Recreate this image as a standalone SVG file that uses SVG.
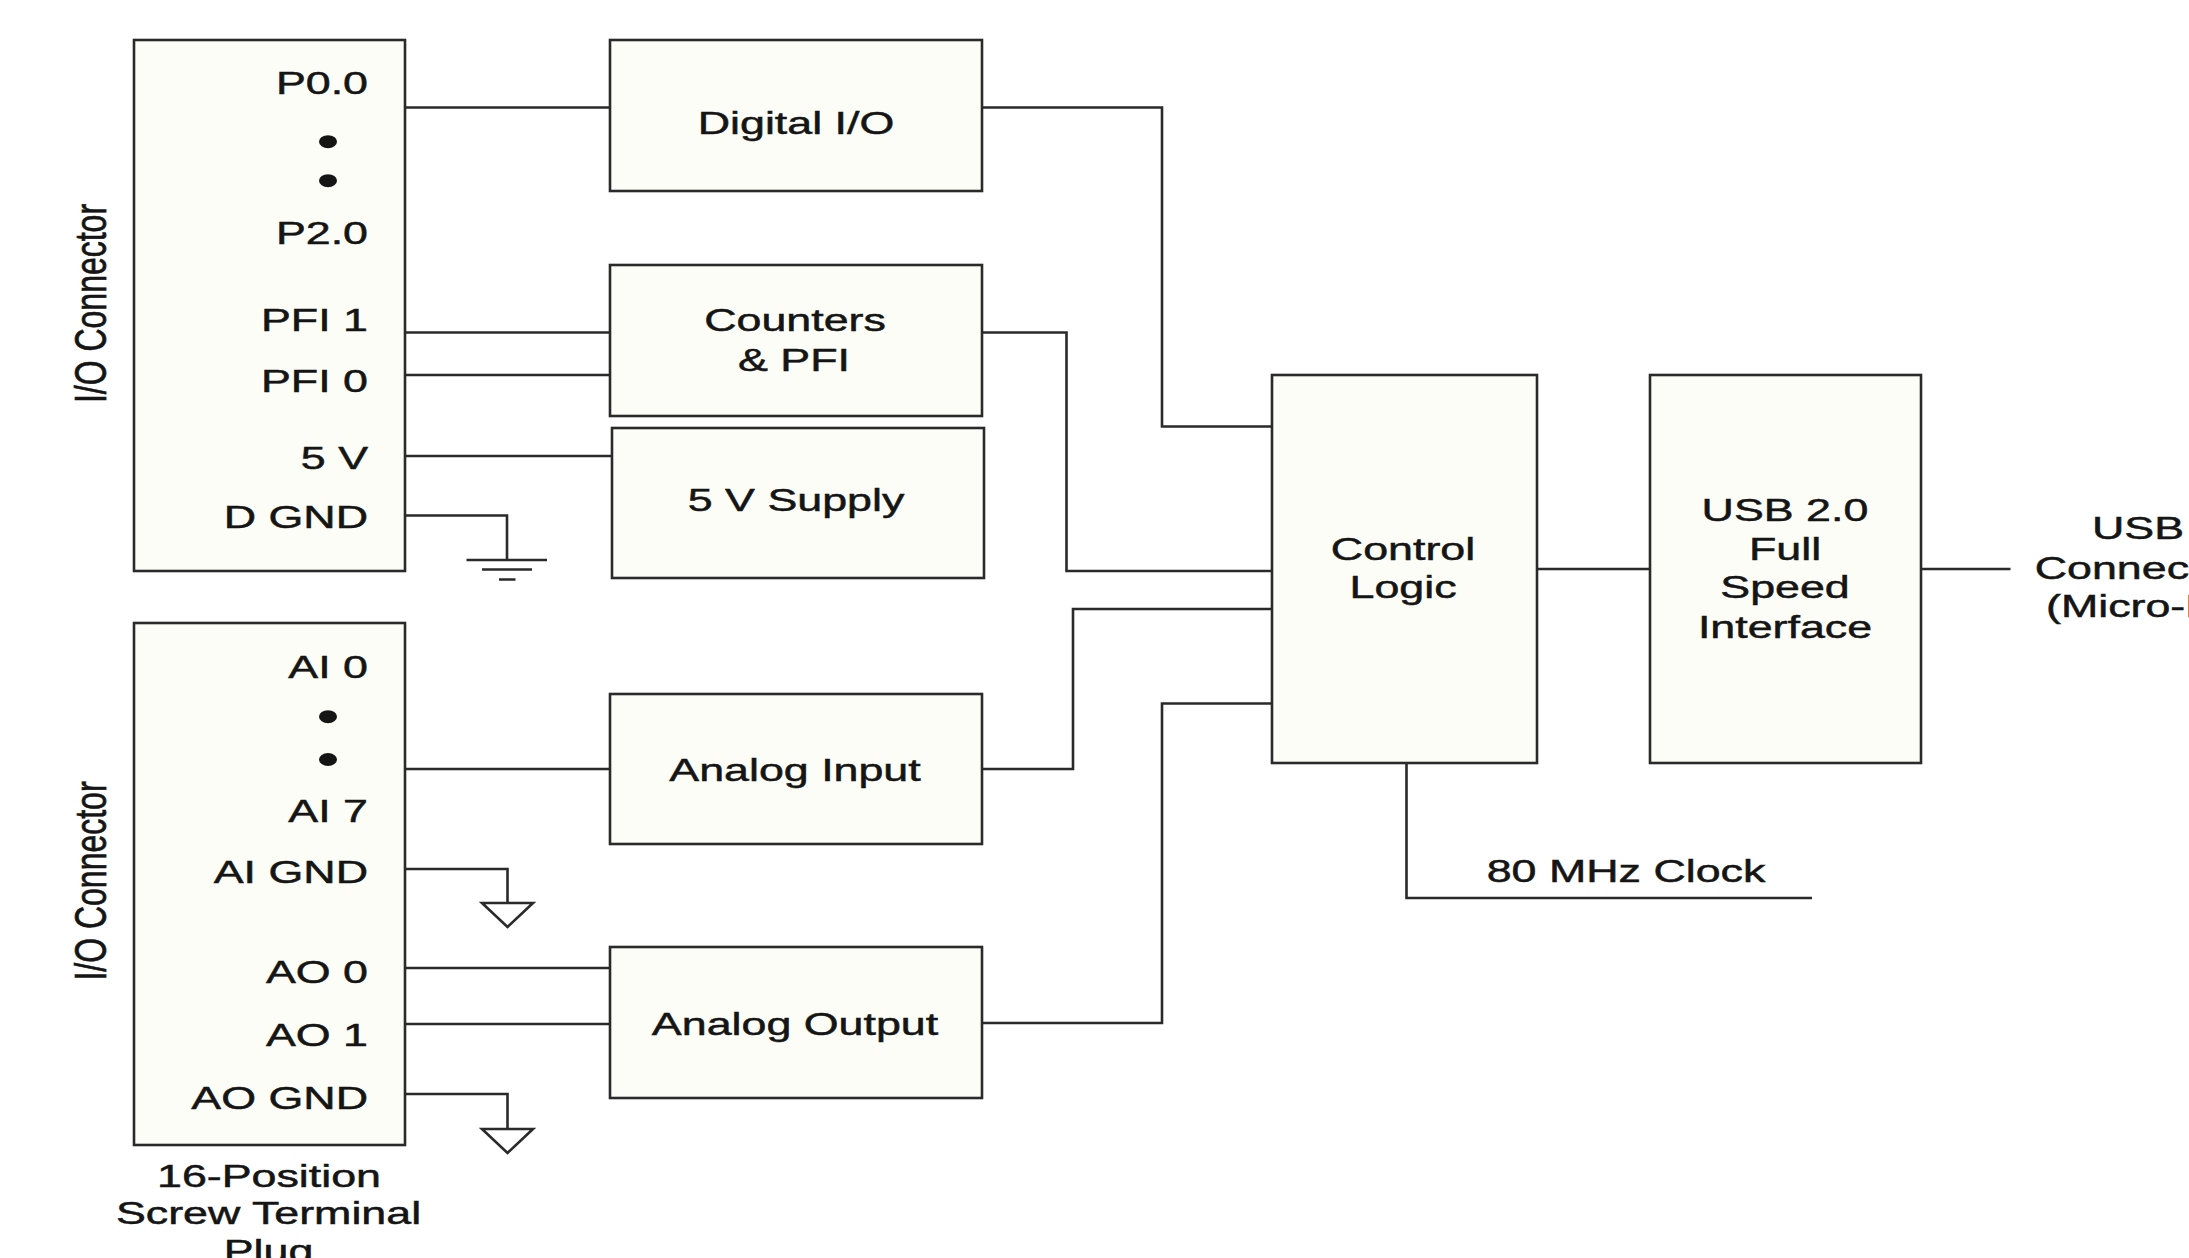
<svg xmlns="http://www.w3.org/2000/svg" width="2189" height="1258" viewBox="0 0 2189 1258">
<style>
.box{fill:#fdfdf7;stroke:#2a2a2a;stroke-width:2.6}
.wire{fill:none;stroke:#2a2a2a;stroke-width:2.6}
.gnd{fill:#ffffff;stroke:#2a2a2a;stroke-width:2.6}
text{font-family:"Liberation Sans",Arial,Helvetica,sans-serif;font-size:32px;fill:#151515;stroke:#151515;stroke-width:0.5}
.r{text-anchor:end}
.c{text-anchor:middle}
.dot{fill:#151515}
</style>
<rect width="2189" height="1258" fill="#ffffff"/>

<g id="connectors">
  <path class="wire" d="M405,107.5 H610"/>
  <path class="wire" d="M405,332.5 H610"/>
  <path class="wire" d="M405,375 H610"/>
  <path class="wire" d="M405,456 H612"/>
  <path class="wire" d="M405,515.5 H507 V560"/>
  <path class="wire" d="M466.5,560 H547 M482,569.5 H532 M499,579.5 H515.5"/>
  <path class="wire" d="M405,769 H610"/>
  <path class="wire" d="M405,869 H507.5 V903"/>
  <path class="wire" d="M405,968 H610"/>
  <path class="wire" d="M405,1024 H610"/>
  <path class="wire" d="M405,1094 H507.5 V1129"/>
  <path class="wire" d="M982,107.5 H1162 V426.5 H1272"/>
  <path class="wire" d="M982,332.5 H1066.5 V571 H1272"/>
  <path class="wire" d="M982,769 H1073 V609 H1272"/>
  <path class="wire" d="M982,1023 H1162 V703.5 H1272"/>
  <path class="wire" d="M1537,569 H1650"/>
  <path class="wire" d="M1921,569 H2010.5"/>
  <path class="wire" d="M1406.5,763 V898 H1812"/>
  <polygon class="gnd" points="482,903 533,903 507.5,927"/>
  <polygon class="gnd" points="482,1129 533,1129 507.5,1153"/>
</g>

<g id="io-connector-digital">
  <rect class="box" x="134" y="40" width="271" height="531"/>
  <text class="r" transform="translate(368,94) scale(1.4,1)">P0.0</text>
  <ellipse class="dot" cx="328" cy="141.7" rx="9" ry="6.5"/>
  <ellipse class="dot" cx="328" cy="180.7" rx="9" ry="6.5"/>
  <text class="r" transform="translate(368,244) scale(1.4,1)">P2.0</text>
  <text class="r" transform="translate(368,331) scale(1.4,1)">PFI 1</text>
  <text class="r" transform="translate(368,392) scale(1.4,1)">PFI 0</text>
  <text class="r" transform="translate(368,469) scale(1.4,1)">5 V</text>
  <text class="r" transform="translate(368,528) scale(1.4,1)">D GND</text>
  <text class="c" transform="translate(105.5,303.5) scale(1.4,1) rotate(-90)">I/O Connector</text>
</g>

<g id="io-connector-analog">
  <rect class="box" x="134" y="623" width="271" height="522"/>
  <text class="r" transform="translate(368,677.5) scale(1.4,1)">AI 0</text>
  <ellipse class="dot" cx="328" cy="716.7" rx="9" ry="6.5"/>
  <ellipse class="dot" cx="328" cy="759.5" rx="9" ry="6.5"/>
  <text class="r" transform="translate(368,822) scale(1.4,1)">AI 7</text>
  <text class="r" transform="translate(368,883) scale(1.4,1)">AI GND</text>
  <text class="r" transform="translate(368,982.5) scale(1.4,1)">AO 0</text>
  <text class="r" transform="translate(368,1046) scale(1.4,1)">AO 1</text>
  <text class="r" transform="translate(368,1109) scale(1.4,1)">AO GND</text>
  <text class="c" transform="translate(105.5,881) scale(1.4,1) rotate(-90)">I/O Connector</text>
  <text class="c" transform="translate(269,1186.5) scale(1.4,1)">16-Position</text>
  <text class="c" transform="translate(268.5,1223.5) scale(1.4,1)">Screw Terminal</text>
  <text class="c" transform="translate(268.5,1262) scale(1.4,1)">Plug</text>
</g>

<g id="digital-io">
  <rect class="box" x="610" y="40" width="372" height="151"/>
  <text class="c" transform="translate(796,134) scale(1.4,1)">Digital I/O</text>
</g>

<g id="counters-pfi">
  <rect class="box" x="610" y="265" width="372" height="151"/>
  <text class="c" transform="translate(795,331) scale(1.4,1)">Counters</text>
  <text class="c" transform="translate(794,371) scale(1.4,1)">&amp; PFI</text>
</g>

<g id="supply-5v">
  <rect class="box" x="612" y="428" width="372" height="150"/>
  <text class="c" transform="translate(796,511) scale(1.4,1)">5 V Supply</text>
</g>

<g id="analog-input">
  <rect class="box" x="610" y="694" width="372" height="150"/>
  <text class="c" transform="translate(795,781) scale(1.4,1)">Analog Input</text>
</g>

<g id="analog-output">
  <rect class="box" x="610" y="947" width="372" height="151"/>
  <text class="c" transform="translate(795,1035) scale(1.4,1)">Analog Output</text>
</g>

<g id="control-logic">
  <rect class="box" x="1272" y="375" width="265" height="388"/>
  <text class="c" transform="translate(1403,559.5) scale(1.4,1)">Control</text>
  <text class="c" transform="translate(1403,598) scale(1.4,1)">Logic</text>
</g>

<g id="usb-interface">
  <rect class="box" x="1650" y="375" width="271" height="388"/>
  <text class="c" transform="translate(1785,521) scale(1.4,1)">USB 2.0</text>
  <text class="c" transform="translate(1785,559.5) scale(1.4,1)">Full</text>
  <text class="c" transform="translate(1785,598) scale(1.4,1)">Speed</text>
  <text class="c" transform="translate(1785,638) scale(1.4,1)">Interface</text>
</g>

<g id="usb-connector">
  <text class="c" transform="translate(2138,538.5) scale(1.4,1)">USB</text>
  <text class="c" transform="translate(2138,579) scale(1.4,1)">Connector</text>
  <text class="c" transform="translate(2138,617) scale(1.4,1)">(Micro-B)</text>
</g>

<g id="clock">
  <text class="c" transform="translate(1626,882) scale(1.4,1)">80 MHz Clock</text>
</g>
</svg>
